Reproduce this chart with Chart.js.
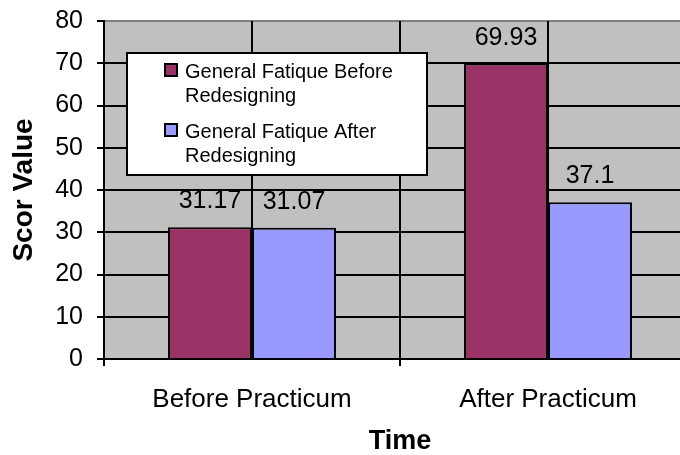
<!DOCTYPE html>
<html><head><meta charset="utf-8">
<script src="https://cdn.jsdelivr.net/npm/chart.js@4"></script>
<style>html,body{margin:0;padding:0;background:#fff}#wrap{width:680px;height:455px;overflow:hidden;position:relative}canvas{display:block}</style>
</head><body><div id="wrap"><canvas id="c" width="696" height="455"></canvas></div>
<script>
const categories = ['Before Practicum', 'After Practicum'];
const seriesNames = ['General Fatique Before Redesigning', 'General Fatique After Redesigning'];
const beforeRedesign = [31.17, 69.93];
const afterRedesign = [31.07, 37.1];
const yTicks = [0, 10, 20, 30, 40, 50, 60, 70, 80];
const seriesColors = ['#993366', '#9999FF'];
const FONT = '"Liberation Sans", Arial, sans-serif';

const plotBg = {
  id: 'plotBg',
  beforeDraw(chart) {
    const { ctx, chartArea: a } = chart;
    ctx.save();
    ctx.fillStyle = '#C0C0C0';
    ctx.fillRect(a.left, a.top, a.right - a.left, a.bottom - a.top);
    ctx.restore();
  }
};

const dataLabels = {
  id: 'dataLabels',
  afterDatasetsDraw(chart) {
    const { ctx } = chart;
    ctx.save();
    ctx.font = '25px ' + FONT;
    ctx.fillStyle = '#000';
    ctx.textAlign = 'center';
    ctx.textBaseline = 'alphabetic';
    chart.data.datasets.forEach((ds, i) => {
      chart.getDatasetMeta(i).data.forEach((bar, j) => {
        ctx.fillText(String(ds.data[j]), bar.x, bar.y - 19);
      });
    });
    ctx.restore();
  }
};

function wrap(ctx, text, maxW) {
  const words = text.split(' ');
  const lines = [];
  let cur = '';
  words.forEach(w => {
    const t = cur ? cur + ' ' + w : w;
    if (ctx.measureText(t).width > maxW && cur) { lines.push(cur); cur = w; }
    else cur = t;
  });
  if (cur) lines.push(cur);
  return lines;
}

const boxLegend = {
  id: 'boxLegend',
  afterDatasetsDraw(chart) {
    const { ctx, chartArea: a } = chart;
    const x0 = a.left + 23, y0 = a.top + 32, w = 300, h = 122;
    ctx.save();
    ctx.fillStyle = '#fff';
    ctx.fillRect(x0, y0, w, h);
    ctx.lineWidth = 2;
    ctx.strokeStyle = '#000';
    ctx.strokeRect(x0, y0, w, h);
    ctx.font = '20px ' + FONT;
    ctx.textBaseline = 'middle';
    ctx.textAlign = 'left';
    chart.data.datasets.forEach((ds, i) => {
      const iy = y0 + 19 + i * 60;
      ctx.fillStyle = ds.backgroundColor;
      ctx.fillRect(x0 + 38, iy - 8, 12, 12);
      ctx.lineWidth = 2;
      ctx.strokeStyle = '#000';
      ctx.strokeRect(x0 + 38, iy - 8, 12, 12);
      ctx.fillStyle = '#000';
      wrap(ctx, ds.label, 235).forEach((ln, k) => {
        ctx.fillText(ln, x0 + 58, iy + k * 24);
      });
    });
    ctx.restore();
  }
};

new Chart(document.getElementById('c'), {
  type: 'bar',
  data: {
    labels: categories,
    datasets: [
      { label: seriesNames[0], data: beforeRedesign, backgroundColor: seriesColors[0], borderColor: '#000', borderWidth: 2, barPercentage: 1, categoryPercentage: 168 / 296, xAxisID: 'x' },
      { label: seriesNames[1], data: afterRedesign, backgroundColor: seriesColors[1], borderColor: '#000', borderWidth: 2, barPercentage: 1, categoryPercentage: 168 / 296, xAxisID: 'x' }
    ]
  },
  options: {
    responsive: false,
    animation: false,
    layout: { padding: { top: 21, left: 0, right: 0, bottom: 0 } },
    plugins: { legend: { display: false }, tooltip: { enabled: false } },
    scales: {
      y: {
        min: yTicks[0], max: yTicks[yTicks.length - 1],
        ticks: { stepSize: yTicks[1] - yTicks[0], color: '#000', font: { family: FONT, size: 25 }, padding: 14 },
        grid: { color: c => (c.tick && c.tick.value === yTicks[yTicks.length - 1]) ? '#808080' : '#000', lineWidth: 2, tickLength: 7, tickColor: '#000' },
        border: { color: '#000', width: 2 },
        title: { display: true, text: 'Scor Value', color: '#000', font: { family: FONT, size: 28, weight: 'bold', lineHeight: 1 }, padding: { top: 10, bottom: 0 } },
        afterFit: s => { s.width = 104; s.paddingTop = 0; s.paddingBottom = 0; }
      },
      x: {
        type: 'category', offset: true,
        grid: { offset: true, color: '#000', lineWidth: 2, tickLength: 7, tickColor: '#000' },
        border: { color: '#000', width: 2 },
        ticks: { color: '#000', font: { family: FONT, size: 26 }, padding: 18, maxRotation: 0 },
        title: { display: true, text: 'Time', color: '#000', font: { family: FONT, size: 27, weight: 'bold', lineHeight: 1 }, padding: { top: 0, bottom: 0 } },
        afterFit: s => { s.height = 96; s.paddingLeft = 0; s.paddingRight = 0; }
      },
      x2: {
        type: 'category', position: 'top', offset: true,
        grid: { offset: false, color: '#000', lineWidth: 2, drawTicks: false },
        border: { display: false },
        ticks: { display: false },
        afterFit: s => { s.height = 0; s.paddingLeft = 0; s.paddingRight = 0; }
      }
    }
  },
  plugins: [plotBg, dataLabels, boxLegend]
});
</script></body></html>
